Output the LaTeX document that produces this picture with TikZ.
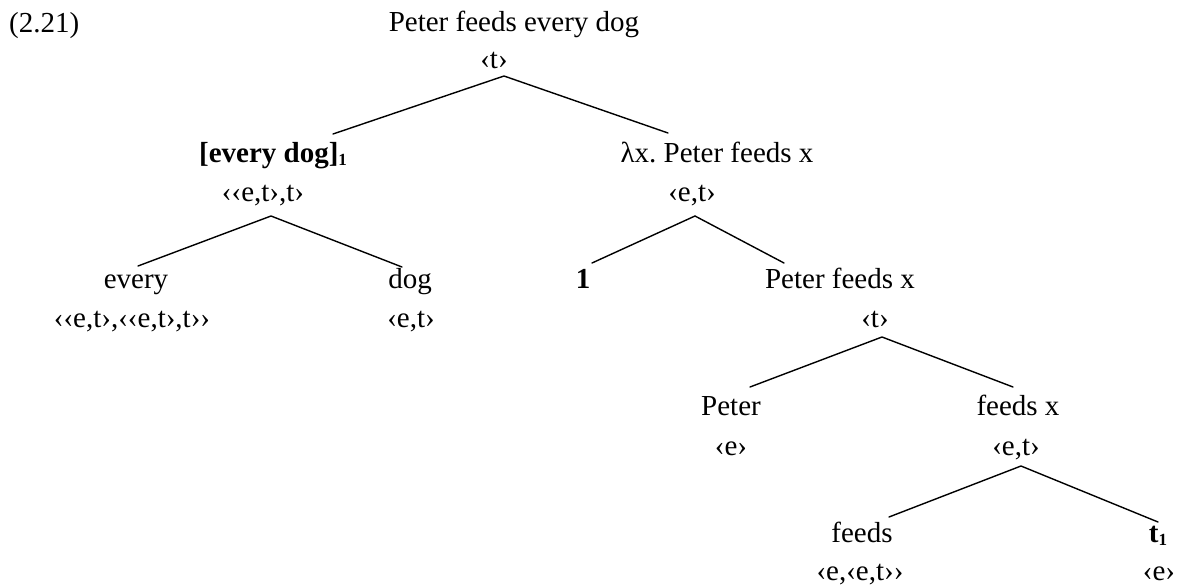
\documentclass[tikz,border=0pt]{standalone}
\usepackage{fontspec}
\setmainfont{Liberation Serif}
\frenchspacing
\newcommand{\subidx}[1]{\raisebox{-3pt}{\fontsize{17}{17}\selectfont\bfseries #1}}
\tikzset{
  lbl/.style={inner sep=0pt, anchor=base, font=\fontsize{29}{34}\selectfont},
  edge/.style={line width=1.4pt, line cap=round}
}
\begin{document}
\begin{tikzpicture}[x=1pt, y=-1pt]
\useasboundingbox (0,0) rectangle (1179,587);

% example number
\node[lbl, anchor=base west] (num) at (9,32) {(2.21)};

% root
\node[lbl] (root)  at (514,31) {Peter feeds every dog};
\node[lbl] (rootT) at (494,68) {‹t›};

% level 1
\node[lbl] (qp)    at (273,162) {\textbf{[every dog]}\subidx{1}};
\node[lbl] (qpT)   at (263,201) {‹‹e,t›,t›};
\node[lbl] (lam)   at (717,162) {λx. Peter feeds x};
\node[lbl] (lamT)  at (692,201) {‹e,t›};

% level 2
\node[lbl] (det)   at (136,288) {every};
\node[lbl] (detT)  at (132,327) {‹‹e,t›,‹‹e,t›,t››};
\node[lbl] (noun)  at (410,288) {dog};
\node[lbl] (nounT) at (411,327) {‹e,t›};
\node[lbl] (idx)   at (583,288) {\textbf{1}};
\node[lbl] (s)     at (840,288) {Peter feeds x};
\node[lbl] (sT)    at (875,327) {‹t›};

% level 3
\node[lbl] (subj)  at (731,415) {Peter};
\node[lbl] (subjT) at (731,455) {‹e›};
\node[lbl] (vp)    at (1018,415) {feeds x};
\node[lbl] (vpT)   at (1016,455) {‹e,t›};

% level 4
\node[lbl] (verb)  at (862,542) {feeds};
\node[lbl] (verbT) at (860,580) {‹e,‹e,t››};
\node[lbl] (tr)    at (1158,542) {\textbf{t}\subidx{1}};
\node[lbl] (trT)   at (1159,580) {‹e›};

% branch points and branch ends
\coordinate (a0)  at (504,76);  \coordinate (a0l) at (333,134); \coordinate (a0r) at (668,133);
\coordinate (a1)  at (271,216); \coordinate (a1l) at (138,266); \coordinate (a1r) at (402,267);
\coordinate (a2)  at (695,216); \coordinate (a2l) at (592,263); \coordinate (a2r) at (784,263);
\coordinate (a3)  at (882,337); \coordinate (a3l) at (750,387); \coordinate (a3r) at (1013,387);
\coordinate (a4)  at (1021,466); \coordinate (a4l) at (889,517); \coordinate (a4r) at (1158,522);

\draw[edge] (a0l) -- (a0) -- (a0r);
\draw[edge] (a1l) -- (a1) -- (a1r);
\draw[edge] (a2l) -- (a2) -- (a2r);
\draw[edge] (a3l) -- (a3) -- (a3r);
\draw[edge] (a4l) -- (a4) -- (a4r);
\end{tikzpicture}
\end{document}
